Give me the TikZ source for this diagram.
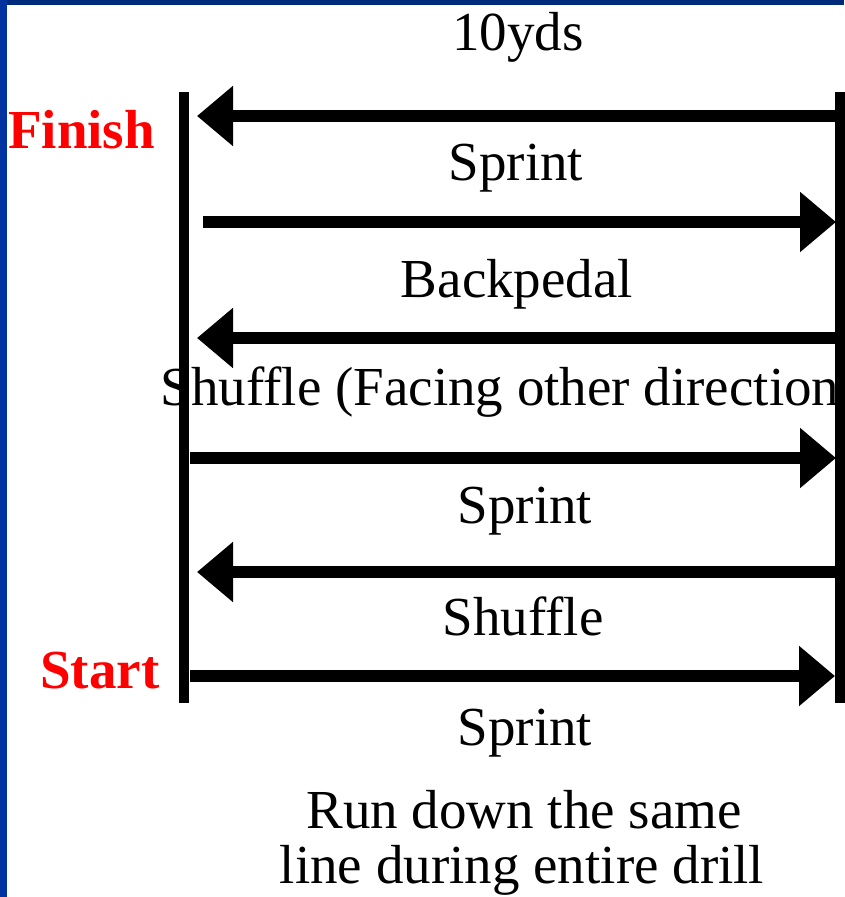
\documentclass[tikz,border=0pt]{standalone}
\usepackage{fontspec}
\setmainfont{Liberation Serif}
\usetikzlibrary{arrows.meta}
\definecolor{topbar}{HTML}{002A7A}
\definecolor{sidebar}{HTML}{0033A0}
\tikzset{
  lbl/.style={anchor=base, inner sep=0pt, font=\fontsize{55}{60}\selectfont},
  redlbl/.style={anchor=base west, inner sep=0pt, font=\fontsize{55}{60}\selectfont\bfseries, text=red},
  post/.style={line width=10pt},
  run/.style={line width=12pt, -{Triangle[length=36pt,width=58pt]}},
}
\begin{document}
\begin{tikzpicture}[x=1pt,y=-1pt]
  \useasboundingbox (0,0) rectangle (844,897);
  \fill[white] (0,0) rectangle (844,897);
  \fill[topbar] (0,0) rectangle (844,5);
  \fill[sidebar] (0,0) rectangle (7,897);

  % labels
  \node[lbl] (yds) at (518,50) {10yds};
  \node[redlbl] (finish) at (8,148) {Finish};
  \node[lbl] (s1) at (516,180) {Sprint};
  \node[lbl] (bp) at (517,297) {Backpedal};
  \node[lbl] (shf) at (500,405) {Shuffle (Facing other direction};
  \node[lbl] (s2) at (525,523) {Sprint};
  \node[lbl] (sh) at (523,635) {Shuffle};
  \node[redlbl] (start) at (40,688) {Start};
  \node[lbl] (s3) at (525,745) {Sprint};
  \node[lbl] (n1) at (524,828) {Run down the same};
  \node[lbl] (n2) at (522,883) {line during entire drill};

  % posts
  \coordinate (lt) at (184,92);
  \coordinate (lb) at (184,703);
  \coordinate (rt) at (840,92);
  \coordinate (rb) at (840,703);
  \draw[post] (lt) -- (lb);
  \draw[post] (rt) -- (rb);

  % runs
  \coordinate (a1s) at (840,116); \coordinate (a1e) at (197,116);
  \coordinate (a2s) at (203,222); \coordinate (a2e) at (836,222);
  \coordinate (a3s) at (840,338); \coordinate (a3e) at (197,338);
  \coordinate (a4s) at (190,458); \coordinate (a4e) at (836,458);
  \coordinate (a5s) at (840,572); \coordinate (a5e) at (197,572);
  \coordinate (a6s) at (190,676); \coordinate (a6e) at (835,676);
  \draw[run] (a1s) -- (a1e);
  \draw[run] (a2s) -- (a2e);
  \draw[run] (a3s) -- (a3e);
  \draw[run] (a4s) -- (a4e);
  \draw[run] (a5s) -- (a5e);
  \draw[run] (a6s) -- (a6e);
\end{tikzpicture}
\end{document}
